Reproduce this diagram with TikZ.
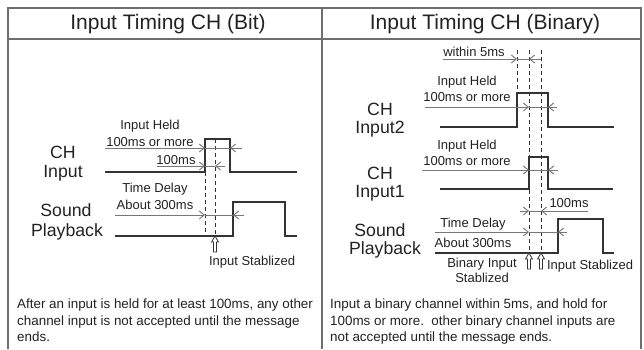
\documentclass[tikz,border=0pt]{standalone}
\usepackage{fontspec}
\setmainfont{Liberation Sans}
\usetikzlibrary{arrows.meta}
\definecolor{framegray}{HTML}{6E6E6E}
\definecolor{dimgray}{HTML}{777777}
\definecolor{sigcol}{HTML}{333333}
\definecolor{txtcol}{HTML}{222222}
\tikzstyle{heading} = [font=\fontsize{21}{24}\selectfont, text=txtcol]
\tikzstyle{signame} = [font=\fontsize{17.7}{20}\selectfont, text=txtcol, inner sep=0pt]
\tikzstyle{note} = [font=\fontsize{13}{15}\selectfont, text=txtcol, inner sep=0pt]
\tikzstyle{para} = [font=\fontsize{13.4}{16.5}\selectfont, text=txtcol, align=left, anchor=north west, inner sep=0pt]
\tikzstyle{wave} = [draw=sigcol, line width=1.1pt]
\tikzstyle{dimline} = [draw=dimgray, line width=0.9pt, >={Straight Barb[length=5pt,width=8pt]}]
\tikzstyle{guide} = [draw=sigcol, line width=0.8pt, dash pattern=on 4pt off 3pt]
\tikzstyle{cell} = [draw=framegray, line width=1.2pt]
\newcommand{\hollowup}[1]{\draw [draw=sigcol, line width=0.8pt, fill=white] (#1) -- ++(3.5,6) -- ++(-2,0) -- ++(0,10) -- ++(-3,0) -- ++(0,-10) -- ++(-2,0) -- cycle;}

\begin{document}
\begin{tikzpicture}[x=1pt,y=-1pt]
	  \useasboundingbox (0,0) rectangle (644,349);
	  % table
	  \draw [cell] (8,349) -- (8,8) -- (641,8) -- (641,349);
	  \draw [cell] (8,39) -- (641,39);
	  \draw [cell] (322,8) -- (322,349);
	  \node (t1) at (168,24) [heading] {Input Timing CH (Bit)};
	  \node (t2) at (485,24) [heading] {Input Timing CH (Binary)};

	  % left: bit
	  \node (ch) at (63,152) [signame] {CH};
	  \node (in) at (63,173) [signame] {Input};
	  \node (snd) at (66,210) [signame] {Sound};
	  \node (pb) at (67,232) [signame] {Playback};

	  \draw [wave] (105,172) -- (205,172) -- (205,139) -- (230,139) -- (230,172) -- (297,172);
	  \draw [wave] (115,236) -- (233,236) -- (233,202) -- (285,202) -- (285,236) -- (297,236);
	  \draw [guide] (205,172) -- (205,236);
	  \draw [guide] (215,139) -- (215,236);

	  \coordinate (h1s) at (105,148); \coordinate (h1a) at (205,148);
	  \coordinate (h1b) at (230,148); \coordinate (h1e) at (242,148);
	  \coordinate (m1s) at (157,166); \coordinate (m1a) at (205,166);
	  \coordinate (m1b) at (215,166); \coordinate (m1e) at (225,166);
	  \coordinate (d1s) at (115,215); \coordinate (d1a) at (205,215);
	  \coordinate (d1b) at (233,215); \coordinate (d1e) at (244,215);
	  \coordinate (up1) at (215,236);

	  \draw [dimline,->] (h1s) to (h1a);
	  \draw [dimline,->] (h1e) to (h1b);
	  \draw [dimline] (h1a) to (h1b);
	  \draw [dimline,->] (m1s) to (m1a);
	  \draw [dimline,->] (m1e) to (m1b);
	  \draw [dimline] (m1a) to (m1b);
	  \draw [dimline,->] (d1s) to (d1a);
	  \draw [dimline,->] (d1e) to (d1b);
	  \draw [dimline] (d1a) to (d1b);
	  \hollowup{up1}

	  \node (held1) at (150,126) [note] {Input Held};
	  \node (more1) at (150,142) [note] {100ms or more};
	  \node (ms1) at (176,160) [note] {100ms};
	  \node (delay1) at (155,189) [note] {Time Delay};
	  \node (about1) at (155,205) [note] {About 300ms};
	  \node (stab1) at (252,262) [note] {Input Stablized};

	  \node (txt1) at (17,299) [para] {After an input is held for at least 100ms, any other\\channel input is not accepted until the message\\ends.};

	  % right: binary
	  \node (ch2) at (380,109) [signame] {CH};
	  \node (in2) at (380,129) [signame] {Input2};
	  \node (ch1) at (380,173) [signame] {CH};
	  \node (in1) at (380,193) [signame] {Input1};
	  \node (snd2) at (380,230) [signame] {Sound};
	  \node (pb2) at (385,250) [signame] {Playback};

	  \draw [wave] (440,127) -- (517,127) -- (517,93) -- (548,93) -- (548,127) -- (614,127);
	  \draw [wave] (440,189) -- (529,189) -- (529,157) -- (548,157) -- (548,189) -- (613,189);
	  \draw [wave] (435,253) -- (558,253) -- (558,219) -- (603,219) -- (603,253) -- (614,253);
	  \draw [guide] (517,50) -- (517,93);
	  \draw [guide] (529,50) -- (529,253);
	  \draw [guide] (541,50) -- (541,253);

	  \coordinate (w5s) at (443,59); \coordinate (w5a) at (517,59);
	  \coordinate (w5b) at (529,59); \coordinate (w5e) at (541,59);
	  \coordinate (h2s) at (425,107); \coordinate (h2a) at (529,107);
	  \coordinate (h2b) at (548,107); \coordinate (h2e) at (557,107);
	  \coordinate (h3s) at (422,170); \coordinate (h3a) at (529,170);
	  \coordinate (h3b) at (548,170); \coordinate (h3e) at (558,170);
	  \coordinate (m2s) at (520,211); \coordinate (m2a) at (529,211);
	  \coordinate (m2b) at (541,211); \coordinate (m2e) at (588,211);
	  \coordinate (d2s) at (435,232); \coordinate (d2a) at (529,232);
	  \coordinate (d2b) at (558,232); \coordinate (d2e) at (567,232);
	  \coordinate (up2) at (529,253);
	  \coordinate (up3) at (541,253);

	  \draw [dimline,->] (w5s) to (w5a);
	  \draw [dimline,->] (w5e) to (w5b);
	  \draw [dimline] (w5a) to (w5b);
	  \draw [dimline,->] (h2s) to (h2a);
	  \draw [dimline,->] (h2e) to (h2b);
	  \draw [dimline] (h2a) to (h2b);
	  \draw [dimline,->] (h3s) to (h3a);
	  \draw [dimline,->] (h3e) to (h3b);
	  \draw [dimline] (h3a) to (h3b);
	  \draw [dimline,->] (m2s) to (m2a);
	  \draw [dimline,->] (m2e) to (m2b);
	  \draw [dimline] (m2a) to (m2b);
	  \draw [dimline,->] (d2s) to (d2a);
	  \draw [dimline,->] (d2e) to (d2b);
	  \draw [dimline] (d2a) to (d2b);
	  \hollowup{up2}
	  \hollowup{up3}

	  \node (within) at (474,52) [note] {within 5ms};
	  \node (held2) at (467,82) [note] {Input Held};
	  \node (more2) at (467,97) [note] {100ms or more};
	  \node (held3) at (467,146) [note] {Input Held};
	  \node (more3) at (467,161) [note] {100ms or more};
	  \node (ms2) at (569,203) [note] {100ms};
	  \node (delay2) at (473,224) [note] {Time Delay};
	  \node (about2) at (473,243) [note] {About 300ms};
	  \node (bin) at (482,264) [note] {Binary Input};
	  \node (stab2) at (482,278) [note] {Stablized};
	  \node (stab3) at (590,266) [note] {Input Stablized};

	  \node (txt2) at (330,299) [para] {Input a binary channel within 5ms, and hold for\\100ms or more.\ \ other binary channel inputs are\\not accepted until the message ends.};
	\end{tikzpicture}
\end{document}
